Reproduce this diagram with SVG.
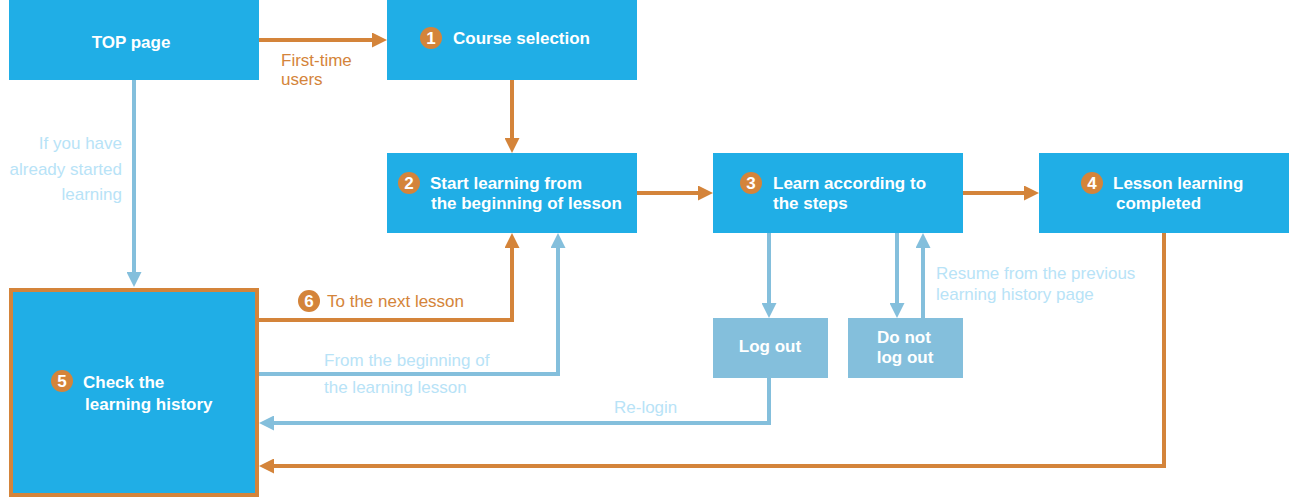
<svg xmlns="http://www.w3.org/2000/svg" width="1291" height="498" viewBox="0 0 1291 498">
<style>
.box{fill:#20aee6}
.gbox{fill:#84bfdc}
.t{font-family:"Liberation Sans",Arial,sans-serif;font-size:17px;font-weight:bold;fill:#fff}
.lo{font-family:"Liberation Sans",Arial,sans-serif;font-size:17px;fill:#d4843a}
.lb{font-family:"Liberation Sans",Arial,sans-serif;font-size:17px;fill:#b8e3f7}
.badge{fill:#d4843a}
.bn{font-family:"Liberation Sans",Arial,sans-serif;font-size:17px;font-weight:bold;fill:#fff;text-anchor:middle}
.co{fill:none;stroke:#d4843a;stroke-width:4}
.cb{fill:none;stroke:#84bfdc;stroke-width:4}
</style>
<defs>
<marker id="ao" markerUnits="userSpaceOnUse" markerWidth="15" markerHeight="15" refX="5" refY="7.5" orient="auto"><path d="M0,0 L15,7.5 L0,15 z" fill="#d4843a"/></marker>
<marker id="ab" markerUnits="userSpaceOnUse" markerWidth="15" markerHeight="15" refX="5" refY="7.5" orient="auto"><path d="M0,0 L15,7.5 L0,15 z" fill="#84bfdc"/></marker>
</defs>
<g id="connectors">
<path class="co" d="M259,40 H377" marker-end="url(#ao)"/>
<path class="co" d="M512,80 V143" marker-end="url(#ao)"/>
<path class="co" d="M637,193 H703" marker-end="url(#ao)"/>
<path class="co" d="M963,193 H1029" marker-end="url(#ao)"/>
<path class="co" d="M257,320 H512 V243" marker-end="url(#ao)"/>
<path class="cb" d="M257,374 H558 V243" marker-end="url(#ab)"/>
<path class="cb" d="M134,80 V277" marker-end="url(#ab)"/>
<path class="cb" d="M769,233 V308" marker-end="url(#ab)"/>
<path class="cb" d="M897,233 V308" marker-end="url(#ab)"/>
<path class="cb" d="M923,318 V243" marker-end="url(#ab)"/>
<path class="cb" d="M769,378 V423 H269" marker-end="url(#ab)"/>
<path class="co" d="M1164,233 V466 H269" marker-end="url(#ao)"/>
<text class="lo" x="281" y="66">First-time</text>
<text class="lo" x="281" y="85">users</text>
<text class="lb" x="122" y="149" text-anchor="end">If you have</text>
<text class="lb" x="122" y="175" text-anchor="end">already started</text>
<text class="lb" x="122" y="200" text-anchor="end">learning</text>
<circle class="badge" cx="309" cy="301" r="11"/>
<text class="bn" x="309" y="307">6</text>
<text class="lo" x="327" y="307">To the next lesson</text>
<text class="lb" x="324" y="366">From the beginning of</text>
<text class="lb" x="324" y="393">the learning lesson</text>
<text class="lb" x="614" y="413">Re-login</text>
<text class="lb" x="936" y="279">Resume from the previous</text>
<text class="lb" x="936" y="300">learning history page</text>
</g>
<g id="top">
<rect class="box" x="9" y="0" width="250" height="80"/>
<text class="t" x="131" y="48" text-anchor="middle">TOP page</text>
</g>
<g id="n1">
<rect class="box" x="387" y="0" width="250" height="80"/>
<circle class="badge" cx="431" cy="38" r="11"/>
<text class="bn" x="431" y="44">1</text>
<text class="t" x="453" y="44">Course selection</text>
</g>
<g id="n2">
<rect class="box" x="387" y="153" width="250" height="80"/>
<circle class="badge" cx="409" cy="183" r="11"/>
<text class="bn" x="409" y="189">2</text>
<text class="t" x="430" y="189">Start learning from</text>
<text class="t" x="431" y="209">the beginning of lesson</text>
</g>
<g id="n3">
<rect class="box" x="713" y="153" width="250" height="80"/>
<circle class="badge" cx="751" cy="183" r="11"/>
<text class="bn" x="751" y="189">3</text>
<text class="t" x="773" y="189">Learn according to</text>
<text class="t" x="773" y="209">the steps</text>
</g>
<g id="n4">
<rect class="box" x="1039" y="153" width="250" height="80"/>
<circle class="badge" cx="1092" cy="183" r="11"/>
<text class="bn" x="1092" y="189">4</text>
<text class="t" x="1113" y="189">Lesson learning</text>
<text class="t" x="1116" y="209">completed</text>
</g>
<g id="n5">
<rect x="11" y="290" width="246" height="205" fill="#20aee6" stroke="#d4843a" stroke-width="4"/>
<circle class="badge" cx="62" cy="381" r="11"/>
<text class="bn" x="62" y="387">5</text>
<text class="t" x="83" y="388">Check the</text>
<text class="t" x="85" y="410">learning history</text>
</g>
<g id="logout">
<rect class="gbox" x="713" y="318" width="115" height="60"/>
<text class="t" x="770" y="352" text-anchor="middle">Log out</text>
</g>
<g id="nologout">
<rect class="gbox" x="848" y="318" width="115" height="60"/>
<text class="t" x="904" y="343" text-anchor="middle">Do not</text>
<text class="t" x="905" y="363" text-anchor="middle">log out</text>
</g>
</svg>
